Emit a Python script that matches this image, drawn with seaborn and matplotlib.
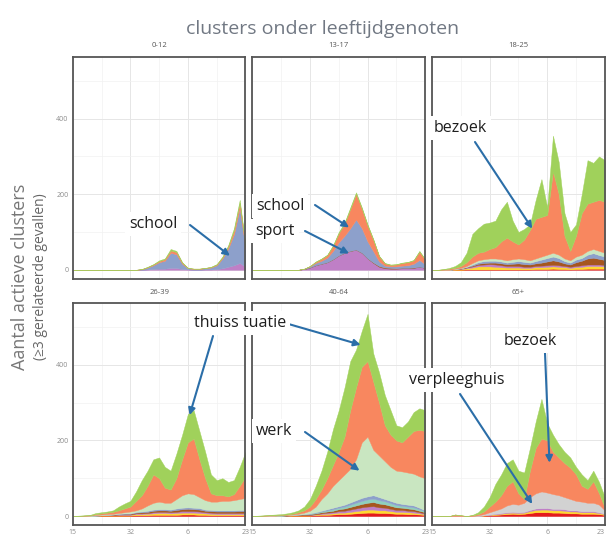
import pandas as pd
import seaborn as sns
import matplotlib.pyplot as plt
from matplotlib.ticker import MultipleLocator

# tijdas (dagindex) en panelen
dagen = list(range(31))
leeftijden = ["0-12", "13-17", "18-25", "26-39", "40-64", "65+"]
x_ticks = [0, 10, 20, 30]
x_labels = ["15", "32", "6", "23"]

# 0-12
sport_0_12 = [0, 0, 0, 0, 0, 0, 0, 0, 0, 0, 0, 0, 0, 1, 2, 3, 3, 5, 5, 2, 1, 0, 0, 1, 1, 2, 4, 8, 12, 18, 8]
school_0_12 = [0, 0, 0, 0, 0, 0, 0, 0, 0, 0, 0, 0, 1, 5, 10, 17, 21, 40, 36, 14, 3, 2, 2, 3, 5, 10, 26, 48, 82, 145, 48]
bezoek_0_12 = [0, 0, 0, 0, 0, 0, 0, 0, 0, 0, 0, 0, 1, 1, 2, 3, 4, 6, 6, 3, 1, 1, 1, 1, 1, 2, 3, 6, 10, 14, 6]
thuis_0_12 = [0, 0, 0, 0, 0, 0, 0, 0, 0, 0, 0, 0, 0, 1, 1, 2, 2, 4, 3, 1, 0, 0, 0, 0, 1, 1, 2, 3, 6, 8, 3]

# 13-17
sport_13_17 = [0, 0, 0, 0, 0, 0, 0, 0, 0, 2, 6, 12, 16, 20, 28, 38, 45, 50, 53, 45, 30, 18, 8, 4, 3, 3, 4, 4, 5, 8, 5]
bruin_13_17 = [0, 0, 0, 0, 0, 0, 0, 0, 0, 0, 0, 0, 0, 0, 0, 0, 0, 0, 0, 0, 0, 1, 2, 2, 2, 1, 1, 1, 1, 0, 0]
school_13_17 = [0, 0, 0, 0, 0, 0, 0, 0, 0, 1, 3, 6, 8, 12, 22, 35, 45, 60, 80, 65, 45, 30, 12, 5, 4, 5, 6, 7, 10, 18, 10]
bezoek_13_17 = [0, 0, 0, 0, 0, 0, 0, 0, 0, 0, 1, 3, 5, 7, 13, 24, 32, 51, 68, 52, 42, 30, 14, 6, 4, 5, 7, 8, 9, 22, 12]
thuis_13_17 = [0, 0, 0, 0, 0, 0, 0, 0, 0, 0, 0, 1, 1, 1, 2, 3, 3, 4, 4, 3, 3, 2, 1, 1, 1, 1, 1, 1, 1, 2, 1]

# 18-25
rood_18_25 = [0, 0, 0, 0, 0, 0, 1, 1, 1, 1, 1, 1, 1, 1, 1, 1, 1, 1, 2, 2, 2, 3, 2, 2, 1, 2, 2, 3, 3, 3, 3]
sport_18_25 = [0, 0, 0, 0, 1, 1, 2, 3, 4, 5, 6, 6, 5, 4, 4, 4, 3, 3, 3, 4, 4, 4, 4, 3, 3, 3, 4, 4, 4, 4, 4]
geel_18_25 = [0, 0, 0, 0, 1, 2, 3, 5, 8, 8, 8, 7, 6, 5, 5, 5, 4, 4, 5, 5, 6, 6, 6, 5, 4, 5, 6, 7, 7, 7, 6]
bruin_18_25 = [0, 0, 0, 0, 0, 1, 1, 2, 3, 4, 4, 5, 5, 5, 6, 7, 7, 6, 7, 8, 10, 12, 10, 7, 6, 10, 12, 16, 18, 15, 13]
werk_18_25 = [0, 0, 0, 0, 1, 1, 2, 4, 5, 5, 6, 6, 6, 6, 7, 7, 7, 6, 7, 8, 9, 10, 9, 7, 6, 8, 9, 10, 11, 11, 10]
school_18_25 = [0, 0, 0, 0, 0, 0, 1, 3, 4, 5, 5, 5, 5, 4, 5, 6, 6, 5, 6, 8, 9, 10, 9, 6, 5, 7, 7, 10, 12, 10, 9]
bezoek_18_25 = [0, 0, 1, 3, 2, 5, 10, 17, 20, 20, 25, 30, 47, 60, 47, 37, 52, 80, 105, 105, 105, 215, 160, 60, 25, 55, 110, 125, 125, 135, 135]
thuis_18_25 = [0, 0, 1, 2, 5, 10, 25, 60, 65, 74, 70, 70, 85, 95, 55, 33, 28, 15, 50, 100, 20, 95, 85, 60, 50, 30, 50, 115, 103, 115, 110]

# 26-39
rood_26_39 = [0, 0, 0, 0, 0, 1, 1, 1, 1, 1, 1, 2, 2, 2, 3, 3, 3, 3, 3, 4, 4, 4, 3, 3, 2, 2, 2, 2, 2, 2, 2]
geel_26_39 = [0, 0, 0, 0, 1, 1, 1, 1, 2, 2, 2, 3, 3, 4, 4, 5, 5, 4, 5, 5, 5, 5, 5, 4, 4, 3, 3, 3, 3, 3, 3]
sport_26_39 = [0, 0, 0, 0, 0, 0, 0, 1, 1, 1, 1, 2, 2, 2, 3, 3, 3, 3, 3, 4, 4, 4, 4, 3, 3, 3, 3, 3, 3, 3, 3]
bruin_26_39 = [0, 0, 0, 0, 0, 0, 1, 1, 1, 2, 2, 2, 3, 3, 4, 4, 4, 4, 5, 5, 6, 5, 5, 4, 4, 4, 4, 4, 4, 5, 5]
school_26_39 = [0, 0, 0, 0, 0, 0, 0, 0, 1, 1, 1, 2, 2, 3, 3, 3, 3, 3, 4, 4, 4, 4, 4, 3, 3, 3, 3, 3, 3, 3, 3]
werk_26_39 = [0, 0, 1, 1, 2, 2, 2, 2, 2, 3, 5, 4, 8, 14, 18, 20, 17, 18, 25, 33, 37, 36, 29, 25, 22, 23, 25, 25, 27, 29, 32]
bezoek_26_39 = [0, 0, 0, 1, 2, 3, 4, 5, 7, 10, 13, 25, 35, 52, 75, 62, 40, 35, 55, 95, 135, 147, 100, 58, 22, 17, 15, 12, 16, 35, 57]
thuis_26_39 = [0, 1, 1, 1, 3, 3, 3, 4, 10, 13, 15, 25, 40, 40, 40, 55, 55, 50, 65, 65, 75, 75, 75, 70, 50, 40, 45, 38, 37, 50, 65]

# 40-64
rood_40_64 = [0, 0, 0, 0, 0, 0, 0, 1, 1, 1, 1, 2, 3, 3, 4, 5, 5, 6, 7, 8, 9, 9, 8, 8, 7, 6, 6, 5, 5, 4, 3]
geel_40_64 = [0, 0, 0, 0, 0, 0, 1, 1, 1, 1, 1, 2, 2, 3, 3, 4, 4, 5, 6, 7, 8, 8, 7, 7, 6, 5, 5, 5, 4, 3, 2]
sport_40_64 = [0, 0, 0, 0, 0, 0, 0, 0, 1, 1, 1, 1, 2, 3, 3, 4, 5, 6, 7, 8, 8, 9, 8, 7, 6, 5, 5, 4, 4, 3, 2]
bruin_40_64 = [0, 0, 0, 0, 0, 1, 1, 1, 1, 1, 2, 2, 3, 3, 4, 5, 6, 7, 8, 9, 10, 11, 10, 9, 8, 7, 6, 6, 5, 4, 3]
turkoois_40_64 = [0, 0, 0, 0, 1, 0, 0, 0, 0, 1, 1, 2, 2, 3, 4, 4, 5, 6, 7, 8, 9, 9, 9, 8, 7, 6, 5, 5, 5, 4, 3]
school_40_64 = [0, 0, 0, 0, 0, 0, 0, 0, 0, 0, 1, 1, 2, 3, 4, 4, 5, 6, 7, 8, 8, 9, 8, 6, 6, 6, 5, 5, 5, 4, 2]
werk_40_64 = [0, 0, 1, 1, 0, 1, 1, 1, 2, 4, 7, 15, 31, 42, 58, 69, 80, 89, 108, 147, 158, 120, 110, 100, 90, 85, 86, 85, 84, 83, 85]
bezoek_40_64 = [0, 0, 0, 1, 1, 1, 1, 2, 4, 6, 11, 20, 25, 40, 55, 75, 100, 155, 190, 200, 200, 180, 140, 95, 85, 80, 77, 95, 113, 123, 125]
thuis_40_64 = [0, 1, 1, 1, 2, 2, 3, 4, 5, 10, 20, 35, 50, 70, 95, 110, 130, 130, 100, 95, 125, 75, 80, 80, 65, 40, 40, 40, 50, 57, 55]

# 65+
rood_65 = [0, 0, 0, 0, 0, 0, 0, 0, 0, 1, 2, 3, 4, 5, 6, 5, 6, 8, 10, 10, 10, 9, 9, 8, 7, 7, 6, 6, 6, 5, 3]
geel_65 = [0, 0, 0, 0, 0, 0, 0, 0, 0, 1, 1, 2, 2, 3, 3, 3, 3, 5, 6, 7, 7, 6, 6, 6, 5, 5, 4, 4, 4, 3, 2]
sport_65 = [0, 0, 0, 0, 0, 0, 0, 0, 0, 0, 1, 1, 2, 2, 2, 2, 2, 3, 4, 4, 4, 4, 4, 4, 3, 3, 3, 3, 3, 2, 1]
verpleeg_65 = [0, 0, 0, 0, 0, 0, 0, 0, 2, 3, 6, 9, 12, 18, 21, 20, 24, 34, 40, 44, 41, 39, 36, 32, 30, 25, 25, 22, 22, 20, 9]
bezoek_65 = [0, 0, 0, 0, 4, 2, 0, 2, 3, 7, 15, 23, 35, 52, 60, 30, 10, 70, 120, 140, 138, 112, 100, 90, 83, 70, 42, 37, 57, 30, 7]
thuis_65 = [0, 0, 0, 0, 0, 0, 0, 1, 5, 13, 25, 47, 55, 60, 58, 60, 70, 60, 70, 105, 45, 45, 35, 30, 27, 20, 30, 23, 28, 30, 28]

# stapelvolgorde (onder -> boven) en kleuren
volgorde = ["rood", "geel", "sport", "bruin", "turkoois", "school",
            "verpleeghuis", "werk", "bezoek", "thuissituatie"]
kleuren = {
    "rood": "#e41a1c", "geel": "#ffd92f", "sport": "#bf7fc6", "bruin": "#a6561f",
    "turkoois": "#8fd0bd", "school": "#8da0cb", "verpleeghuis": "#d2d2d2",
    "werk": "#c9e6c1", "bezoek": "#f8875f", "thuissituatie": "#a0d15b",
}

panelen = {
    "0-12": {"sport": sport_0_12, "school": school_0_12, "bezoek": bezoek_0_12,
             "thuissituatie": thuis_0_12},
    "13-17": {"sport": sport_13_17, "bruin": bruin_13_17, "school": school_13_17,
              "bezoek": bezoek_13_17, "thuissituatie": thuis_13_17},
    "18-25": {"rood": rood_18_25, "sport": sport_18_25, "geel": geel_18_25,
              "bruin": bruin_18_25, "werk": werk_18_25, "school": school_18_25,
              "bezoek": bezoek_18_25, "thuissituatie": thuis_18_25},
    "26-39": {"rood": rood_26_39, "geel": geel_26_39, "sport": sport_26_39,
              "bruin": bruin_26_39, "school": school_26_39, "werk": werk_26_39,
              "bezoek": bezoek_26_39, "thuissituatie": thuis_26_39},
    "40-64": {"rood": rood_40_64, "geel": geel_40_64, "sport": sport_40_64,
              "bruin": bruin_40_64, "turkoois": turkoois_40_64, "school": school_40_64,
              "werk": werk_40_64, "bezoek": bezoek_40_64, "thuissituatie": thuis_40_64},
    "65+": {"rood": rood_65, "geel": geel_65, "sport": sport_65,
            "verpleeghuis": verpleeg_65, "bezoek": bezoek_65, "thuissituatie": thuis_65},
}

rijen = []
for leeftijd, reeksen in panelen.items():
    for setting, waarden in reeksen.items():
        for dag, aantal in zip(dagen, waarden):
            rijen.append((leeftijd, setting, dag, aantal))
df = pd.DataFrame(rijen, columns=["leeftijd", "setting", "dag", "aantal"])


def stapel(data, **kws):
    ax = plt.gca()
    tab = data.pivot_table(index="dag", columns="setting", values="aantal", aggfunc="sum")
    tab = tab.reindex(columns=[s for s in volgorde if s in tab.columns])
    ax.stackplot(tab.index, tab.T.values, colors=[kleuren[s] for s in tab.columns],
                 linewidth=0.3, edgecolor="face")


sns.set_theme(style="whitegrid")
plt.rcParams["font.family"] = ["Open Sans", "DejaVu Sans"]

g = sns.FacetGrid(df, col="leeftijd", col_order=leeftijden, col_wrap=3,
                  sharex=True, sharey=True, height=2.2, aspect=1.0, despine=False)
g.map_dataframe(stapel)
g.set_axis_labels("", "")

fig = g.figure
fig.set_size_inches(6.06, 5.38)
fig.subplots_adjust(left=0.120, right=0.998, top=0.894, bottom=0.024,
                    wspace=0.04, hspace=0.11)

for i, (naam, ax) in enumerate(zip(leeftijden, g.axes.flat)):
    ax.set_facecolor("white")
    ax.set_xlim(0, 30)
    ax.set_ylim(-24, 563)
    ax.set_xticks(x_ticks)
    ax.set_xticklabels(x_labels)
    ax.xaxis.set_minor_locator(MultipleLocator(5))
    ax.yaxis.set_major_locator(MultipleLocator(200))
    ax.yaxis.set_minor_locator(MultipleLocator(100))
    ax.grid(which="major", color="#e6e6e6", linewidth=0.7)
    ax.grid(which="minor", color="#f1f1f1", linewidth=0.5)
    ax.set_axisbelow(True)
    ax.tick_params(which="both", length=0, labelsize=5, labelcolor="#8c8c8c", pad=3,
                   labelbottom=(i >= 3), labelleft=(i % 3 == 0))
    for sp in ax.spines.values():
        sp.set_visible(True)
        sp.set_color("#555555")
        sp.set_linewidth(1.3)
    ax.set_title(naam, fontsize=5.5, color="#555555", pad=7)

# laatste label rechts niet laten afsnijden
g.axes.flat[-1].get_xticklabels()[-1].set_horizontalalignment("right")

assen = dict(zip(leeftijden, g.axes.flat))


def fxy(x, y):
    # pixelpositie (vanaf linksboven) -> figuurfractie
    return (x / 606, 1 - y / 538)


# annotaties: tekst in pixels, pijlen van pixelpositie naar punt in paneel
pijl = dict(arrowstyle="-|>", color="#2b6ea8", lw=1.5, mutation_scale=10,
            shrinkA=0, shrinkB=0)
pijlen = [
    ("0-12", (190, 225), (27.3, 37)),
    ("13-17", (315, 205), (16.8, 112)),
    ("13-17", (305, 231), (16.8, 43)),
    ("18-25", (475, 142), (17.4, 109)),
    ("26-39", (213, 336), (20.3, 267)),
    ("40-64", (285, 323), (18.8, 453)),
    ("40-64", (305, 432), (18.6, 120)),
    ("65+", (460, 394), (17.4, 32)),
    ("65+", (545, 353), (20.4, 141)),
]
for paneel, start, doel in pijlen:
    assen[paneel].annotate("", xy=doel, xycoords="data", xytext=fxy(*start),
                           textcoords="figure fraction", arrowprops=pijl,
                           annotation_clip=False)

teksten = [
    ("school", (153, 224)),
    ("school", (280, 206)),
    ("sport", (275, 231)),
    ("bezoek", (460, 128)),
    ("thuiss tuatie", (240, 323)),
    ("werk", (274, 431)),
    ("verpleeghuis", (457, 380)),
    ("bezoek", (530, 341)),
]
for tekst, pos in teksten:
    fig.text(*fxy(*pos), tekst, ha="center", va="center", fontsize=11.5, color="#1e1e1e",
             bbox=dict(boxstyle="square,pad=0.25", fc="white", ec="none"))

fig.text(*fxy(323, 29), "clusters onder leeftijdgenoten", ha="center", va="center",
         fontsize=14, color="#717883")
fig.text(*fxy(20, 277), "Aantal actieve clusters", rotation=90, ha="center",
         va="center", fontsize=13, color="#777777")
fig.text(*fxy(41, 277), "(≥3 gerelateerde gevallen)", rotation=90, ha="center",
         va="center", fontsize=10, color="#666666")

plt.savefig("out.png", dpi=100)
